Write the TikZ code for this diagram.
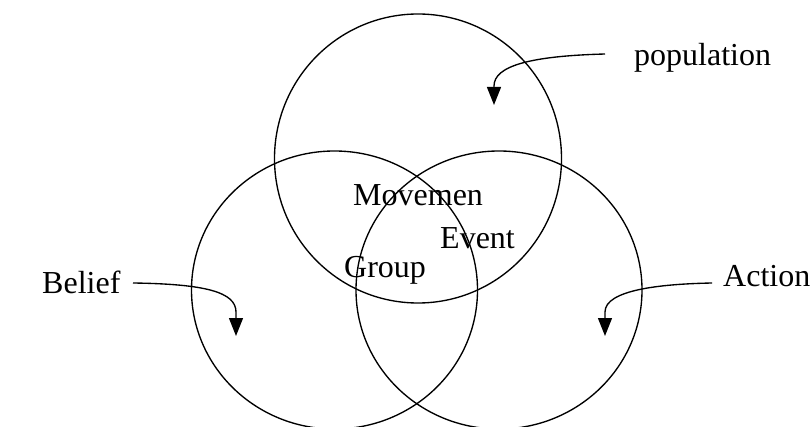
\documentclass[tikz,border=0pt]{standalone}
\usepackage{fontspec}
\setmainfont{Liberation Serif}
\usetikzlibrary{arrows.meta}
\begin{document}
\begin{tikzpicture}[x=1pt,y=-1pt,
  ring/.style={line width=1.35pt},
  lbl/.style={font=\fontsize{32}{36}\selectfont, inner sep=0pt, anchor=base west},
  arr/.style={line width=1.35pt, -{Triangle[length=18pt,width=14pt]}}]
\useasboundingbox (0,0) rectangle (810,427);
% circles
\draw[ring] (418,158.5) ellipse [x radius=143.5pt, y radius=144.5pt];
\draw[ring] (334.5,290) ellipse [x radius=143pt, y radius=139pt];
\draw[ring] (499,290) ellipse [x radius=143pt, y radius=139pt];
% labels
\node[lbl] (pop) at (634,66) {population};
\node[lbl] (bel) at (42,293) {Belief};
\node[lbl] (act) at (723,287) {Action};
\node[lbl] (mov) at (353,206) {Movemen};
\node[lbl] (evt) at (440,249) {Event};
\node[lbl] (grp) at (344,277) {Group};
% arrow ends
\coordinate (popS) at (605,54);
\coordinate (popT) at (494,105);
\coordinate (belS) at (133,283);
\coordinate (belT) at (236,336);
\coordinate (actS) at (712,283);
\coordinate (actT) at (605,336);
\draw[arr] (popS) .. controls (530,56) and (494,66) .. (494,86) -- (popT);
\draw[arr] (belS) .. controls (205,284) and (236,292) .. (236,312) -- (belT);
\draw[arr] (actS) .. controls (660,284) and (605,290) .. (605,312) -- (actT);
\end{tikzpicture}
\end{document}
